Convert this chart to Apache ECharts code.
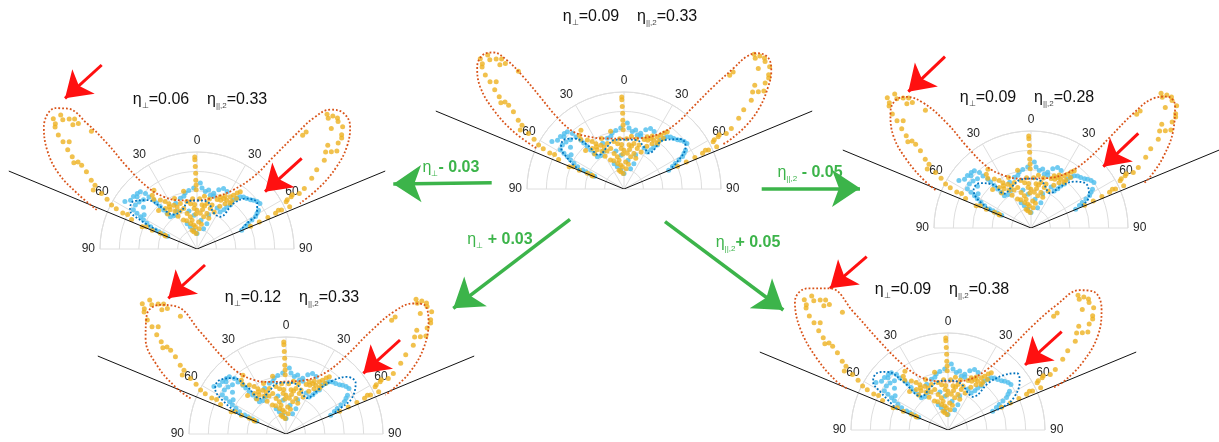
<!DOCTYPE html>
<html>
<head>
<meta charset="utf-8">
<script src="https://cdn.jsdelivr.net/npm/echarts@6/dist/echarts.min.js"></script>
<style>
html, body { margin: 0; padding: 0; background: #fff; }
#chart { width: 1219px; height: 442px; }
</style>
</head>
<body>
<div id="chart"></div>
<script>
// panel order: top centre, left, right, bottom left, bottom right
var etaPerp = [0.09, 0.06, 0.09, 0.12, 0.09];
var etaPar = [0.33, 0.33, 0.28, 0.33, 0.38];
var surfaceAngle = [-67.5, 67.5];

// measured points, [radius, angle], same in every panel
var yellowPts = [
    [2.0,-47.8],[1.92,-46.1],[1.84,-43.3],[1.78,-43.4],[1.93,-49.3],[1.85,-50.6],[1.77,-51.3],[1.68,-52.5],
    [1.47,-54.0],[1.39,-55.1],[1.24,-58.0],[1.14,-59.8],[0.99,-62.8],[0.85,-64.2],[0.74,-65.7],[0.57,-66.3],
    [0.36,-66.6],[1.23,-60.4],[1.63,-41.9],[1.97,-45.5],[1.95,-48.5],[1.88,-44.5],[1.81,-45],[1.6,-53.5],
    [1.52,-53.8],[1.3,-57],[1.06,-61],[0.93,-63.5],[0.8,-63.5],[0.61,-67.9],[0.50,-67.1],[0.41,-66.8],[0.35,-67.7],
    [1.91,45.1],[1.96,45.6],[1.96,47.9],[1.96,50.0],[1.86,48.1],[1.90,51.7],[1.82,53.1],[1.72,51.6],[1.71,54.1],
    [1.60,55.1],[1.48,56.5],[1.39,58.3],[1.27,60.6],[1.20,61.5],[1.11,61.0],[1.04,62.1],[1.05,65.5],[0.96,65.2],
    [1.65,43.0],[1.60,42.9],[0.89,65.5],[0.93,64.5],[1.06,61.4],[1.13,60.4],[1.93,44],[1.98,47],[1.88,52.5],
    [1.76,55],[1.66,53],[0.8,66],[0.7,66.5],[0.6,67],
    [0.95,-1.4],[0.92,-1.4],[0.85,-1.2],[0.78,-1],[0.71,-1],[0.66,-0.8],[0.61,-0.8],
    [0.72,-39.8],[0.63,-36.8],[0.59,-33.8],[0.55,-31.8],[0.51,-27.9],[0.48,-25.3],[0.53,-37.9],[0.49,-34.4],
    [0.45,-30.2],[0.50,-20.1],[0.44,-18.1],[0.38,-15.6],[0.34,-11.7],[0.30,-9.8],[0.25,-7.8],[0.20,-14.7],
    [0.18,-10.8],[0.40,0],[0.37,5.3],[0.34,11.7],[0.28,3.6],[0.23,-4.4],[0.46,6.5],[0.48,12.3],[0.48,18.8],
    [0.55,22.2],[0.59,24.0],[0.59,27.8],[0.59,31.5],[0.64,32.5],[0.67,34.2],[0.71,35.7],[0.74,37.1],[0.55,31.8],
    [0.58,36.1],[0.44,18.1],[0.38,15.6],[0.34,20.9],[0.61,-13.1],[0.75,-36.3],[0.52,-5],[0.47,-8],[0.42,-4],
    [0.36,-2],[0.31,-20],[0.27,-14],[0.45,10],[0.42,25],[0.5,28],[0.53,14],[0.57,-24],[0.43,-24],[0.39,-30],
    [0.47,-40],[0.52,3],[0.26,10],[0.16,-3],[0.21,6],[0.62,28],[0.66,38],[0.56,-45],[0.68,-41],
    [0.5,-12],[0.46,-3],[0.41,8],[0.55,8],[0.33,-25],[0.52,-33],[0.61,36],[0.56,26],[1.72,-50],[1.55,-55]
];
var bluePts = [
    [0.89,-56.6],[0.85,-53.7],[0.85,-50.4],[0.84,-47.1],[0.83,-44.7],[0.78,-42.9],[0.73,-42.7],[0.78,-54.5],
    [0.77,-58.4],[0.72,-59.3],[0.67,-60.3],[0.63,-61.4],[0.58,-62.8],[0.53,-64.5],[0.47,-65.5],[0.43,-65.7],
    [0.77,-50.9],[0.75,-47.4],[0.67,-41.5],[0.63,-41.2],[0.58,-40.9],[0.53,-40.5],[0.48,-40.0],[0.43,-39.6],
    [0.42,-34.4],[0.44,-28.2],[0.55,-18.2],[0.59,-11.9],[0.61,-8.0],[0.63,-3.1],[0.68,2.9],[0.63,4.7],
    [0.60,8.2],[0.57,13.8],[0.57,17.7],[0.28,-21.3],[0.24,-16.7],[0.20,-9.9],[0.16,0],[0.22,17.9],[0.28,21.3],
    [0.37,19],[0.47,26.2],[0.45,32],[0.49,34.4],[0.53,35.3],[0.57,37.1],[0.63,36.8],[0.67,38.3],[0.70,39.6],
    [0.72,41.8],[0.73,44.6],[0.75,47.4],[0.77,49.2],[0.79,51.7],[0.80,54.2],[0.75,57.7],[0.72,59.3],[0.69,61.0],
    [0.64,62.2],[0.59,63.6],[0.55,65.2],[0.50,67.1],[0.67,27.6],[0.68,23.7],[0.65,20.2],[0.60,16.7],[0.62,11.2],
    [0.38,-66],[0.33,-66.5],[0.82,-49],[0.7,-52],[0.65,-57],[0.52,-25],[0.56,-14],[0.35,-5],[0.3,8],[0.4,-12]
];

// model curves per panel, [radius, angle]
var lobeCurves = [
    [[1.0,-65],[1.28,-62.6],[1.57,-58.8],[1.82,-54.6],[1.97,-50.2],[2.0,-45.7],[1.95,-43.8],[1.80,-42.3],[1.55,-41.9],
     [1.29,-42.3],[1.02,-43],[0.79,-41.5],[0.64,-33],[0.55,-18.8],[0.52,0],[0.55,17.5],[0.68,32.9],[0.87,38.7],
     [1.11,40.1],[1.40,41.1],[1.68,42.2],[1.86,42.8],[1.96,44.4],[2.01,47.8],[1.94,51.5],[1.82,54.7],[1.64,58.8],
     [1.43,62.4],[1.2,65.2],[1.12,65.6]],
    [[1.11,-68.7],[1.36,-65.1],[1.63,-61.3],[1.85,-56.6],[2.02,-51.4],[2.06,-45.2],[1.97,-42.7],[1.72,-41.2],
     [1.43,-40.4],[1.11,-40.4],[0.82,-38.7],[0.64,-32.6],[0.53,-18.8],[0.50,0],[0.58,20.9],[0.72,31.8],[0.95,38.1],
     [1.24,39.7],[1.53,40.7],[1.81,41.7],[1.99,43.8],[2.06,47.2],[2.02,51.4],[1.87,55.7],[1.67,59.5],[1.42,63.2],[1.16,66.1]],
    [[1.06,-68.3],[1.21,-65.9],[1.46,-61.3],[1.70,-56.4],[1.87,-50.8],[1.92,-47],[1.87,-43.7],[1.70,-40.7],[1.38,-38.7],
     [1.07,-38.2],[0.78,-35.7],[0.61,-27.3],[0.52,-12.1],[0.51,0],[0.54,17.8],[0.68,33.4],[0.91,39.5],[1.25,41.0],
     [1.59,41.8],[1.84,43.4],[1.95,46.0],[1.95,49.6],[1.78,55.5],[1.55,61.7],[1.34,66.7],[1.25,68.4]],
    [[1.05,-69.5],[1.22,-67.3],[1.51,-61.9],[1.75,-55.8],[1.89,-49.4],[1.86,-44.3],[1.73,-40.6],[1.38,-40],[1.06,-39.7],
     [0.82,-38.2],[0.65,-30.9],[0.56,-16.7],[0.54,0],[0.60,21.3],[0.77,33.4],[1.03,37.7],[1.37,39.5],[1.68,41.4],
     [1.88,44.3],[1.95,46.9],[1.87,51.8],[1.67,58.1],[1.43,63.4],[1.21,67.0],[1.10,68.6]],
    [[1.13,-67.6],[1.25,-66.5],[1.54,-61.4],[1.85,-55.5],[2.06,-50],[2.06,-44.9],[1.90,-39.8],[1.56,-38.7],[1.15,-37.6],
     [0.81,-34.5],[0.62,-27.7],[0.53,-16.7],[0.50,0],[0.55,20.5],[0.74,32.8],[1.01,36.9],[1.39,39.1],[1.71,41.0],
     [1.98,43.3],[2.07,46.4],[2.02,51.6],[1.83,57.7],[1.56,63.2],[1.29,67.3],[1.16,68]]
];
var innerCurves = [
    [[0.50,-67.1],[0.66,-61.6],[0.78,-56.3],[0.80,-50.4],[0.73,-44.6],[0.59,-39.8],[0.435,-36.3],[0.47,-21.5],
     [0.515,-11.5],[0.51,0],[0.52,15],[0.48,25.3],[0.45,35],[0.65,39.2],[0.78,48.8],[0.77,55.6],[0.62,62.9],[0.53,66.1]],
    [[0.46,-64.6],[0.66,-62.9],[0.80,-59.7],[0.82,-53.3],[0.72,-45.6],[0.58,-40.9],[0.43,-34.5],[0.43,-21],[0.50,-10],
     [0.50,0],[0.50,12],[0.41,25],[0.41,35.8],[0.60,38.7],[0.73,44.6],[0.78,52.7],[0.72,59.2],[0.58,62.8],[0.49,66.3]],
    [[0.46,-66.1],[0.64,-61.2],[0.71,-56.4],[0.70,-48.6],[0.59,-40.9],[0.45,-38.2],[0.47,-24.7],[0.51,-12.5],[0.51,0],
     [0.49,13.4],[0.41,29.1],[0.52,35.4],[0.65,42.7],[0.73,52.5],[0.68,61.5],[0.55,66.6]],
    [[0.51,-67.4],[0.72,-62.6],[0.87,-57.1],[0.88,-50.6],[0.79,-43.2],[0.63,-39.5],[0.45,-35.7],[0.47,-22.2],[0.53,-10.1],
     [0.53,0],[0.52,12.7],[0.43,30.5],[0.59,36.9],[0.74,41.5],[0.86,46.8],[0.89,53.8],[0.77,61.6],[0.62,64.7],[0.54,66.5]],
    [[0.57,-67.7],[0.80,-60.6],[0.92,-57.1],[0.94,-51.5],[0.87,-46.4],[0.68,-42.8],[0.44,-38.3],[0.47,-23.3],[0.51,-11.3],
     [0.51,0],[0.50,14.4],[0.43,37.2],[0.64,40.8],[0.80,45.2],[0.92,50.5],[0.89,56.1],[0.75,64.1],[0.62,67.2],[0.54,67.7]]
];

// annotations
var deltaLabels = [['⊥', '- 0.03'], ['||,2', ' - 0.05'], ['⊥', ' + 0.03'], ['||,2', '+ 0.05']];
var greenArrows = [[491.7,182.7,393.3,184], [761.7,188.3,860,188.3], [570,219.3,453.3,308.3], [665,221.7,783.3,310]];
var redArrows = [
    [101.7,65,65,98.3], [301.7,158.3,265,191.7],
    [945,56.7,908.3,91.7], [1138.3,133.3,1103.3,166.7],
    [205,265,168.3,298.3], [400,340,363.3,373.3],
    [866.7,256.7,830,288.3], [1061.7,331.7,1025,365]
];

// layout
var centers = [[624,189], [197,249], [1031,228], [286,434], [948,430]];
var titlePos = [[630,17], [200,100], [1027,98], [292,298], [942,290]];
var labelPos = [[451,168], [810,173], [500,240], [748,243]];
var R = 97;          // pixel radius of the 0..1 grid
var outer = 2.2;     // data polar reaches this radius
var font = '"Liberation Sans", Arial, sans-serif';
var gridColor = '#dedede';
var green = '#3cb44a';

var polar = [], angleAxis = [], radiusAxis = [], series = [], graphic = [];

centers.forEach(function (c, i) {
    var g = 2 * i, d = 2 * i + 1;
    // grid polar: rings and spokes, 0..1
    polar.push({ center: c, radius: R });
    angleAxis.push({
        polarIndex: g, type: 'value', min: -90, max: 90, interval: 30,
        startAngle: 180, endAngle: 0, clockwise: true,
        axisLine: { show: true, lineStyle: { color: gridColor } },
        axisTick: { show: false },
        axisLabel: {
            color: '#262626', fontSize: 12, fontFamily: font, margin: 5,
            formatter: function (v) { return Math.abs(v); }
        },
        splitLine: { show: true, lineStyle: { color: gridColor } }
    });
    radiusAxis.push({
        polarIndex: g, type: 'value', min: 0, max: 1, interval: 0.2,
        axisLine: { show: false }, axisTick: { show: false }, axisLabel: { show: false },
        splitLine: { show: true, lineStyle: { color: gridColor } }
    });
    // data polar: same scale, larger area so lobes are not clipped
    polar.push({ center: c, radius: R * outer });
    angleAxis.push({
        polarIndex: d, type: 'value', min: -90, max: 90,
        startAngle: 180, endAngle: 0, clockwise: true,
        axisLine: { show: false }, axisTick: { show: false }, axisLabel: { show: false }, splitLine: { show: false }
    });
    radiusAxis.push({
        polarIndex: d, type: 'value', min: 0, max: outer,
        axisLine: { show: false }, axisTick: { show: false }, axisLabel: { show: false }, splitLine: { show: false }
    });

    series.push({
        type: 'line', coordinateSystem: 'polar', polarIndex: d, symbol: 'none',
        lineStyle: { color: '#111', width: 1 },
        data: [[2.1, surfaceAngle[0]], [0, 0], [2.1, surfaceAngle[1]]]
    });
    series.push({
        type: 'scatter', coordinateSystem: 'polar', polarIndex: d,
        symbolSize: 5, itemStyle: { color: '#4DBEEE' }, data: bluePts
    });
    series.push({
        type: 'scatter', coordinateSystem: 'polar', polarIndex: d,
        symbolSize: 5, itemStyle: { color: '#EDB120' }, data: yellowPts
    });
    series.push({
        type: 'line', coordinateSystem: 'polar', polarIndex: d, symbol: 'none', smooth: 0.4,
        lineStyle: { color: '#D95319', width: 1.8, type: [1.8, 2] }, data: lobeCurves[i]
    });
    series.push({
        type: 'line', coordinateSystem: 'polar', polarIndex: d, symbol: 'none', smooth: 0.4,
        lineStyle: { color: '#0072BD', width: 1.8, type: [1.8, 2] }, data: innerCurves[i]
    });

    graphic.push({
        type: 'text', x: titlePos[i][0], y: titlePos[i][1],
        style: {
            text: '{n|η}{s|⊥}{n|=' + etaPerp[i].toFixed(2) + '    η}{s|||,2}{n|=' + etaPar[i].toFixed(2) + '}',
            align: 'center', verticalAlign: 'middle',
            rich: {
                n: { fontSize: 16, fontFamily: font, fill: '#111', lineHeight: 20 },
                s: { fontSize: 8, fontFamily: font, fill: '#444', lineHeight: 8, verticalAlign: 'bottom' }
            }
        }
    });
});

labelPos.forEach(function (p, i) {
    graphic.push({
        type: 'text', x: p[0], y: p[1],
        style: {
            text: '{g|η}{s|' + deltaLabels[i][0] + '}{b|' + deltaLabels[i][1] + '}',
            align: 'center', verticalAlign: 'middle',
            rich: {
                g: { fontSize: 16, fontFamily: font, fill: green, lineHeight: 20 },
                s: { fontSize: 8, fontFamily: font, fill: green, lineHeight: 8, verticalAlign: 'bottom' },
                b: { fontSize: 16, fontFamily: font, fill: green, fontWeight: 'bold', lineHeight: 20 }
            }
        }
    });
});

function arrowData(list) {
    return list.map(function (a) {
        return { coords: [[a[0], a[1]], [a[2], a[3]]] };
    });
}

series.push({
    type: 'lines', coordinateSystem: 'cartesian2d', xAxisIndex: 0, yAxisIndex: 0,
    symbol: ['none', 'arrow'], symbolSize: [20, 28],
    lineStyle: { color: green, width: 3.5, opacity: 1, curveness: 0 },
    data: arrowData(greenArrows)
});
series.push({
    type: 'lines', coordinateSystem: 'cartesian2d', xAxisIndex: 0, yAxisIndex: 0,
    symbol: ['none', 'arrow'], symbolSize: [19, 25],
    lineStyle: { color: '#ff1010', width: 3, opacity: 1, curveness: 0 },
    data: arrowData(redArrows)
});

var chart = echarts.init(document.getElementById('chart'));
chart.setOption({
    animation: false,
    backgroundColor: '#fff',
    grid: { left: 0, right: 0, top: 0, bottom: 0 },
    xAxis: { type: 'value', min: 0, max: 1219, show: false },
    yAxis: { type: 'value', min: 0, max: 442, inverse: true, show: false },
    polar: polar,
    angleAxis: angleAxis,
    radiusAxis: radiusAxis,
    series: series,
    graphic: graphic
});
</script>
</body>
</html>
